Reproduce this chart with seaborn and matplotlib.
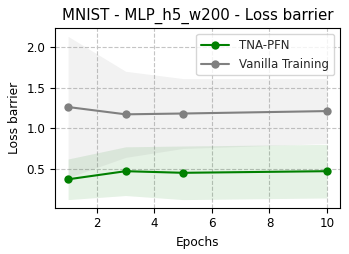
"""Loss barrier vs epochs for TNA-PFN and vanilla training."""

import matplotlib

matplotlib.use("Agg")
import matplotlib.pyplot as plt
import pandas as pd
import seaborn as sns

epochs = [1, 3, 5, 10]
tna_mean = [0.37, 0.47, 0.45, 0.47]
tna_std = [0.25, 0.30, 0.33, 0.33]
vanilla_mean = [1.26, 1.17, 1.18, 1.21]
vanilla_std = [0.87, 0.53, 0.43, 0.40]

sns.set_style("ticks")
plt.rcParams["font.family"] = ["DejaVu Sans"]

frame = pd.DataFrame(
    {
        "Epochs": epochs * 2,
        "Loss barrier": tna_mean + vanilla_mean,
        "Method": ["TNA-PFN"] * 4 + ["Vanilla Training"] * 4,
    }
)
palette = {"TNA-PFN": "green", "Vanilla Training": "gray"}

fig = plt.figure(figsize=(3.49, 2.54), dpi=100)
ax = fig.add_axes([0.158, 0.182, 0.816, 0.707])

for name, mean, std in [
    ("TNA-PFN", tna_mean, tna_std),
    ("Vanilla Training", vanilla_mean, vanilla_std),
]:
    lower = [m - s for m, s in zip(mean, std)]
    upper = [m + s for m, s in zip(mean, std)]
    ax.fill_between(epochs, lower, upper, color=palette[name], alpha=0.1, linewidth=0)

sns.lineplot(
    data=frame,
    x="Epochs",
    y="Loss barrier",
    hue="Method",
    palette=palette,
    marker="o",
    markersize=6,
    markeredgewidth=0,
    linewidth=1.5,
    ax=ax,
)

ax.grid(True, linestyle="--", color="#c4c4c4", linewidth=0.8)
ax.set_title("MNIST - MLP_h5_w200 - Loss barrier", fontsize=10.8, color="black")
ax.set_xlabel("Epochs", fontsize=8.7, color="black")
ax.set_ylabel("Loss barrier", fontsize=8.8, color="black")
ax.tick_params(labelsize=8.6, colors="black", length=3.5, width=0.8)
ax.set_yticks([0.5, 1.0, 1.5, 2.0])
for spine in ax.spines.values():
    spine.set_visible(True)
    spine.set_color("black")
    spine.set_linewidth(0.8)
ax.legend(
    loc="upper right",
    fontsize=8.5,
    title=None,
    frameon=True,
    handlelength=2.4,
    handletextpad=0.85,
)

fig.savefig("out.png", dpi=100)
plt.close(fig)
